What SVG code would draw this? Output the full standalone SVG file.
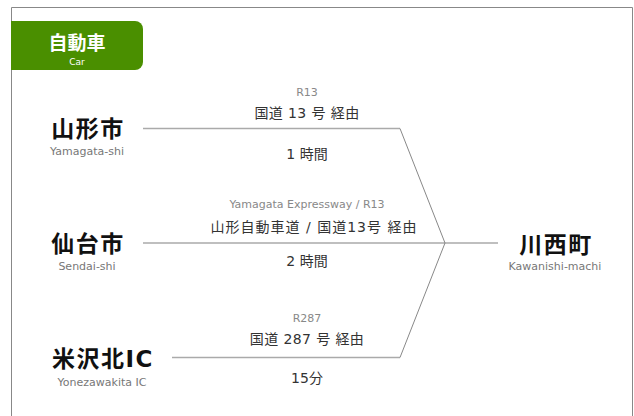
<svg xmlns="http://www.w3.org/2000/svg" width="634" height="416" viewBox="0 0 634 416">
<style>
text{font-family:"DejaVu Sans","Noto Sans CJK JP",sans-serif;text-anchor:middle}
.nm{font-size:23px;font-weight:bold;fill:#111;letter-spacing:1.5px}
.en{font-size:11px;fill:#777}
.sub{font-size:11px;fill:#888}
.rt{font-size:14px;fill:#333;letter-spacing:0.4px}
.tm{font-size:14px;fill:#333}
.ln{fill:none;stroke:#aaa;stroke-width:1.5}
.dg{fill:none;stroke:#888;stroke-width:1}
</style>
<rect x="0" y="0" width="634" height="416" fill="#fff"/>
<path d="M11.5 416V7.5H632.5V416" fill="none" stroke="#888" stroke-width="1"/>
<g id="tab">
<path d="M11 21H135a8 8 0 0 1 8 8V62a8 8 0 0 1-8 8H11Z" fill="#4a8f00"/>
<text x="77" y="50" style="font-size:19px;font-weight:bold;fill:#fff;font-family:'Noto Sans CJK JP',sans-serif">自動車</text>
<text x="77" y="65" style="font-size:9px;fill:#fff">Car</text>
</g>
<g id="connectors">
<path class="ln" d="M143 128.5H400"/>
<path class="ln" d="M143 243H498"/>
<path class="ln" d="M172 357.5H400"/>
<path class="dg" d="M400 128.5L445 243L400 357.5"/>
</g>
<g id="route1">
<text class="sub" x="307" y="96">R13</text>
<text class="rt" x="307" y="118">国道 13 号 経由</text>
<text class="tm" x="307" y="159">1 時間</text>
</g>
<g id="route2">
<text class="sub" x="307" y="208">Yamagata Expressway / R13</text>
<text class="rt" x="314" y="232" style="letter-spacing:1px">山形自動車道 / 国道13号 経由</text>
<text class="tm" x="307" y="266">2 時間</text>
</g>
<g id="route3">
<text class="sub" x="307" y="322">R287</text>
<text class="rt" x="307" y="344">国道 287 号 経由</text>
<text class="tm" x="307" y="383">15分</text>
</g>
<g id="yamagata">
<text class="nm" x="88" y="137">山形市</text>
<text class="en" x="87" y="155">Yamagata-shi</text>
</g>
<g id="sendai">
<text class="nm" x="88" y="252">仙台市</text>
<text class="en" x="87" y="270">Sendai-shi</text>
</g>
<g id="yonezawa">
<text class="nm" x="103" y="367">米沢北IC</text>
<text class="en" x="102" y="386">Yonezawakita IC</text>
</g>
<g id="kawanishi">
<text class="nm" x="556" y="253">川西町</text>
<text class="en" x="555" y="270">Kawanishi-machi</text>
</g>
</svg>
